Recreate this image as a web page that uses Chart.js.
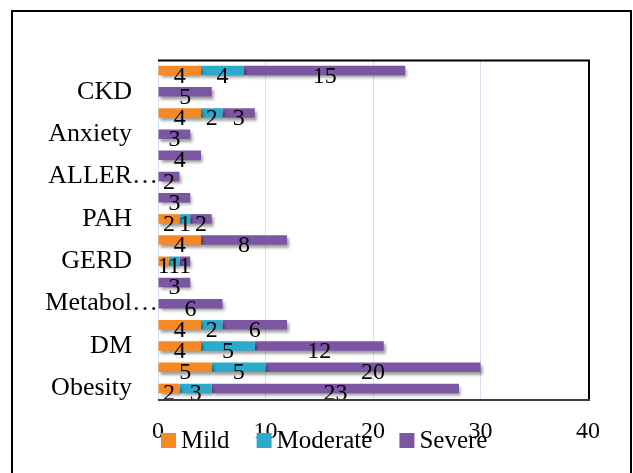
<!DOCTYPE html>
<html>
<head>
<meta charset="utf-8">
<script src="https://cdn.jsdelivr.net/npm/chart.js@4.4.1/dist/chart.umd.min.js"></script>
<style>
  html, body { margin: 0; padding: 0; background: #ffffff; }
  #wrap { width: 633px; height: 473px; }
</style>
</head>
<body>
<div id="wrap"><canvas id="c" width="633" height="473"></canvas></div>
<script>
// Rows listed bottom to top; blank rows are the ones whose names the axis skips.
const categories = ['Obesity', '', 'DM', '', 'Metabol…', '', 'GERD', '', 'PAH', '', 'ALLER…', '', 'Anxiety', '', 'CKD', ''];
const mild     = [2, 5, 4, 4, 0, 0, 1, 4, 2, 0, 0, 0, 0, 4, 0, 4];
const moderate = [3, 5, 5, 2, 0, 0, 1, 0, 1, 0, 0, 0, 0, 2, 0, 4];
const severe   = [23, 20, 12, 6, 6, 3, 1, 8, 2, 3, 2, 4, 3, 3, 5, 15];
const seriesNames = ['Mild', 'Moderate', 'Severe'];
const xTicks = [0, 10, 20, 30, 40];

const SERIF = '"Liberation Serif", "Times New Roman", serif';
const COLORS = ['#F58A24', '#2BAACB', '#7B56A3'];

// Drop shadow under the bars, plus the value written on each segment.
const barDecor = {
  id: 'barDecor',
  beforeDatasetsDraw(chart) {
    const ctx = chart.ctx;
    ctx.save();
    ctx.shadowColor = 'rgba(0,0,0,0.38)';
    ctx.shadowBlur = 3;
    ctx.shadowOffsetX = 2;
    ctx.shadowOffsetY = 3;
  },
  afterDatasetsDraw(chart) {
    const ctx = chart.ctx;
    ctx.restore();
    ctx.save();
    ctx.fillStyle = '#000';
    ctx.font = '24px ' + SERIF;
    ctx.textAlign = 'center';
    ctx.textBaseline = 'alphabetic';
    chart.data.datasets.forEach((ds, i) => {
      const meta = chart.getDatasetMeta(i);
      meta.data.forEach((bar, j) => {
        const v = ds.data[j];
        if (!v) return;
        const p = bar.getProps(['x', 'y', 'base'], true);
        ctx.fillText(String(v), (p.x + p.base) / 2, p.y + 12);
      });
    });
    ctx.restore();
  }
};

// Chart frame, plot frame and the legend row.
const frame = {
  id: 'frame',
  afterDraw(chart) {
    const ctx = chart.ctx;
    const a = chart.chartArea;
    ctx.save();
    // outer border
    ctx.strokeStyle = '#000';
    ctx.lineWidth = 2;
    ctx.strokeRect(12, 11, 619, 475);
    // plot border: top and right black, bottom dark grey
    ctx.beginPath();
    ctx.moveTo(a.left, a.top + 0.5);
    ctx.lineTo(a.right + 1, a.top + 0.5);
    ctx.lineTo(a.right + 1, a.bottom + 1);
    ctx.stroke();
    ctx.strokeStyle = '#3c3c3c';
    ctx.beginPath();
    ctx.moveTo(a.left, a.bottom + 1);
    ctx.lineTo(a.right + 2, a.bottom + 1);
    ctx.stroke();

    // legend
    ctx.font = '25px ' + SERIF;
    ctx.textAlign = 'left';
    ctx.textBaseline = 'alphabetic';
    let x = 161;
    chart.data.datasets.forEach(ds => {
      ctx.fillStyle = ds.backgroundColor;
      ctx.fillRect(x, 433, 15, 15);
      ctx.fillStyle = '#000';
      ctx.fillText(ds.label, x + 20, 448);
      x += 20 + ctx.measureText(ds.label).width + 27;
    });
    ctx.restore();
  }
};

const datasets = [mild, moderate, severe].map((data, i) => ({
  label: seriesNames[i],
  data: data,
  backgroundColor: COLORS[i],
  borderWidth: 0,
  categoryPercentage: 1,
  barPercentage: 0.45
}));

new Chart(document.getElementById('c'), {
  type: 'bar',
  data: { labels: categories, datasets: datasets },
  options: {
    indexAxis: 'y',
    responsive: false,
    animation: false,
    devicePixelRatio: 1,
    layout: { padding: { left: 0, top: 60, right: 45, bottom: 0 } },
    plugins: {
      legend: { display: false },
      tooltip: { enabled: false }
    },
    scales: {
      x: {
        stacked: true,
        min: 0,
        max: 40,
        afterBuildTicks(scale) { scale.ticks = xTicks.map(v => ({ value: v })); },
        afterFit(scale) { scale.height = 74; },
        grid: { color: '#D5E1F2', lineWidth: 1, drawTicks: false },
        border: { display: false },
        ticks: {
          color: '#000',
          padding: 18,
          font: { family: SERIF, size: 24 }
        }
      },
      y: {
        stacked: true,
        reverse: true,
        afterFit(scale) { scale.width = 158; },
        grid: { display: false, drawTicks: false },
        border: { display: false },
        ticks: {
          autoSkip: false,
          color: '#000',
          padding: 0,
          font: { family: SERIF, size: 26 },
          // truncated names run up to the axis; full names stay clear of it
          callback(value) {
            const name = this.getLabelForValue(value);
            if (!name) return '';
            return name.endsWith('…') ? name : name + '\u00A0\u00A0\u00A0\u00A0';
          }
        }
      }
    }
  },
  plugins: [barDecor, frame]
});
</script>
</body>
</html>
